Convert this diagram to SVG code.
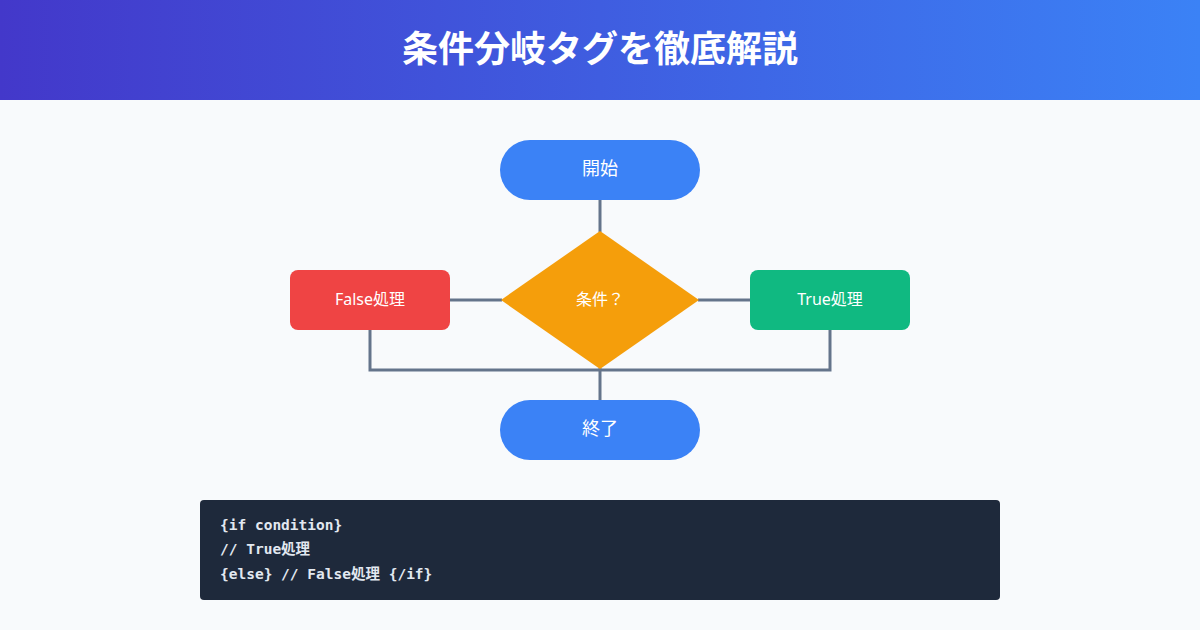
<svg xmlns="http://www.w3.org/2000/svg" width="1200" height="630" viewBox="0 0 1200 630">
<defs>
<linearGradient id="hdr" x1="0" y1="0" x2="1" y2="0">
<stop offset="0" stop-color="#4338CA"/>
<stop offset="1" stop-color="#3B82F6"/>
</linearGradient>
<style>
.lbl{font-family:"Noto Sans","Noto Sans CJK JP",sans-serif;fill:#fff;text-anchor:middle;dominant-baseline:central}
.conn{stroke:#64748B;stroke-width:3;fill:none}
.code{font-family:"DejaVu Sans Mono","Noto Sans CJK JP",monospace;font-size:14.5px;font-weight:bold;fill:#E2E8F0}
</style>
</defs>
<rect width="1200" height="630" fill="#F8FAFC"/>
<rect width="1200" height="100" fill="url(#hdr)"/>
<text x="600" y="46" class="lbl" style="font-size:36px;font-weight:bold;font-family:'Noto Sans CJK JP',sans-serif">条件分岐タグを徹底解説</text>
<g id="connectors">
<line class="conn" x1="600" y1="200" x2="600" y2="232"/>
<line class="conn" x1="450" y1="300" x2="502" y2="300"/>
<line class="conn" x1="698" y1="300" x2="750" y2="300"/>
<polyline class="conn" points="370,330 370,370 830,370 830,330"/>
<line class="conn" x1="600" y1="368" x2="600" y2="400"/>
</g>
<g id="start">
<rect x="500" y="140" width="200" height="60" rx="30" fill="#3B82F6"/>
<text x="600" y="168" class="lbl" font-size="18">開始</text>
</g>
<g id="cond">
<polygon points="600,231 699,300 600,369 501,300" fill="#F59E0B"/>
<text x="600" y="299" class="lbl" font-size="16">条件？</text>
</g>
<g id="false">
<rect x="290" y="270" width="160" height="60" rx="8" fill="#EF4444"/>
<text x="370" y="299" class="lbl" font-size="16">False処理</text>
</g>
<g id="true">
<rect x="750" y="270" width="160" height="60" rx="8" fill="#10B981"/>
<text x="830" y="299" class="lbl" font-size="16">True処理</text>
</g>
<g id="end">
<rect x="500" y="400" width="200" height="60" rx="30" fill="#3B82F6"/>
<text x="600" y="428" class="lbl" font-size="18">終了</text>
</g>
<g id="code">
<rect x="200" y="500" width="800" height="100" rx="4" fill="#1E293B"/>
<text x="220" y="530" class="code">{if condition}</text>
<text x="220" y="554" class="code">// True処理</text>
<text x="220" y="579" class="code">{else} // False処理 {/if}</text>
</g>
</svg>
